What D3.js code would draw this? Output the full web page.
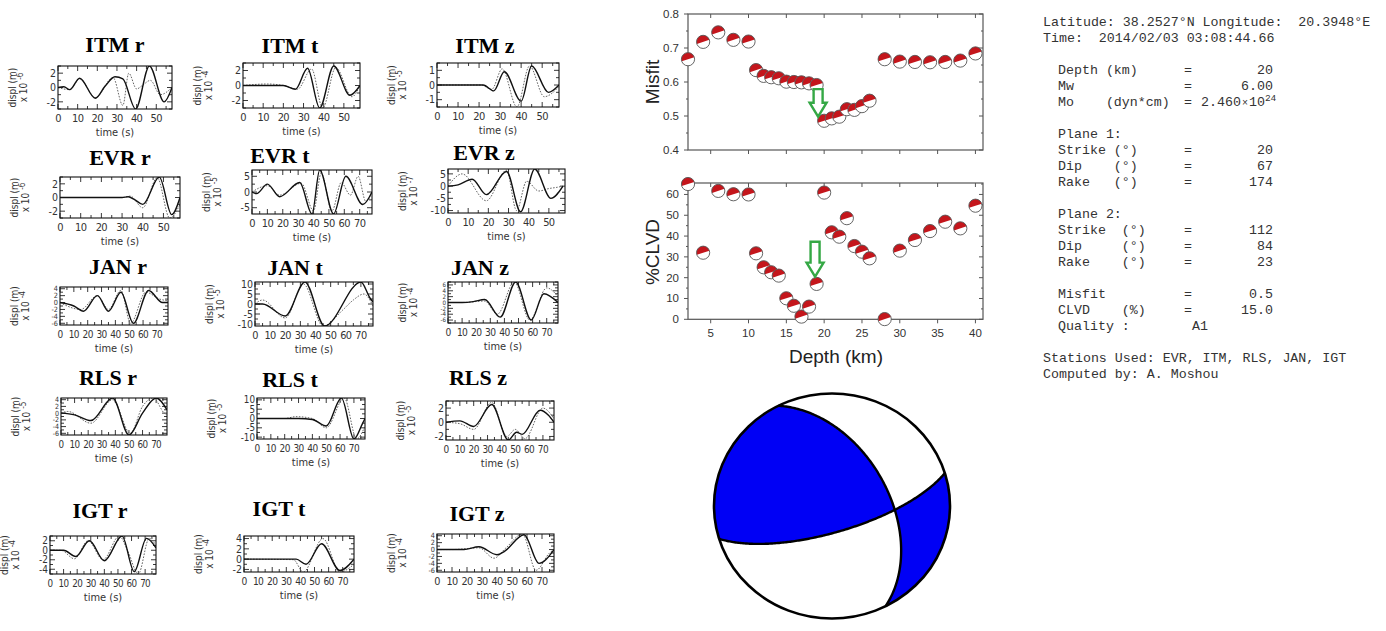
<!DOCTYPE html>
<html>
<head>
<meta charset="utf-8">
<script src="https://cdn.jsdelivr.net/npm/d3@7"></script>
<style>
	body { margin: 0; background: #fff; }
	svg { display: block; }
	.mono { font-family: "Liberation Mono", "Courier New", monospace; font-size: 13.3px; fill: #333; white-space: pre; }
	.wtick { font-family: "Liberation Sans Narrow", "DejaVu Sans Condensed", "Liberation Sans", sans-serif; font-size: 11px; fill: #333; }
	.ptick { font-family: "Liberation Sans", Arial, sans-serif; font-size: 11.5px; fill: #333; }
</style>
</head>
<body>
<div id="chart"></div>
<script>
///////////////////////////////////////////////////////////////////////////
//////////////////////////// data /////////////////////////////////////////
///////////////////////////////////////////////////////////////////////////

// depth scan
const depths = [2, 4, 6, 8, 10, 11, 12, 13, 14, 15, 16, 17, 18, 19, 20, 21, 22, 23, 24, 25, 26, 28, 30, 32, 34, 36, 38, 40];
const misfit = [0.667, 0.718, 0.746, 0.724, 0.719, 0.635, 0.618, 0.614, 0.611, 0.601, 0.6, 0.599, 0.596, 0.591, 0.486, 0.493, 0.498, 0.52, 0.518, 0.529, 0.545, 0.667, 0.66, 0.659, 0.658, 0.659, 0.663, 0.684];
const clvd = [65, 32, 61.7, 60.1, 60, 31.7, 25, 22.6, 21, 10.1, 6.5, 1.3, 6.1, 17, 60.9, 41.8, 39.7, 48.6, 35.2, 32.5, 29.3, 0.1, 33, 38.1, 42.4, 46.9, 43.7, 54.6];
const depthTicks = [5, 10, 15, 20, 25, 30, 35, 40];
const misfitTicks = [0.4, 0.5, 0.6, 0.7, 0.8];
const clvdTicks = [0, 10, 20, 30, 40, 50, 60];
// best solution arrows [depth, from, to]
const arrowMisfit = [19.2, 0.579, 0.498];
const arrowClvd = [18.8, 37.3, 20.5];

// solution text
const headerLines = ["Latitude: 38.2527°N Longitude:  20.3948°E", "Time:  2014/02/03 03:08:44.66"];
const paramRows = [
	["Depth (km)", "20", 3], ["Mw", "6.00", 4], ["Mo    (dyn*cm)", null, 5],
	["Plane 1:", "", 7], ["Strike (°)", "20", 8], ["Dip    (°)", "67", 9], ["Rake   (°)", "174", 10],
	["Plane 2:", "", 12], ["Strike  (°)", "112", 13], ["Dip     (°)", "84", 14], ["Rake    (°)", "23", 15],
	["Misfit", "0.5", 17], ["CLVD    (%)", "15.0", 18]
];
const moment = ["2.460", "10", "24"];
const quality = ["Quality :", "A1", 19];
const footerLines = [["Stations Used: EVR, ITM, RLS, JAN, IGT", 21], ["Computed by: A. Moshou", 22]];

// nodal planes as drawn in the beachball [strike, dip]
const bbPlanes = [[333, 50], [73, 71]];
const bbPolarity = 1;

// waveforms
const stations = ["ITM", "EVR", "JAN", "RLS", "IGT"];
const components = ["r", "t", "z"];
const waveTMax = [[58, 58, 58], [58, 78, 58], [78, 78, 78], [78, 78, 78], [78, 78, 78]];
const waveYDomain = [
	[[-3, 3], [-3, 3], [-1.5, 1.5]],
	[[-3, 3], [-7, 7], [-11, 7]],
	[[-6.5, 4.5], [-11, 11], [-7, 7]],
	[[-6.5, 4.5], [-11, 11], [-2.5, 3]],
	[[-5, 3], [-2.5, 4.5], [-6.5, 4.5]]
];
const waveYTicks = [
	[[2, 0, -2], [2, 0, -2], [1, 0, -1]],
	[[2, 0, -2], [5, 0, -5], [5, 0, -5, -10]],
	[[4, 2, 0, -2, -4, -6], [10, 5, 0, -5, -10], [6, 4, 2, 0, -2, -4, -6]],
	[[4, 2, 0, -2, -4, -6], [10, 5, 0, -5, -10], [2, 0, -2]],
	[[2, 0, -2, -4], [4, 2, 0, -2], [4, 2, 0, -2, -4, -6]]
];
const waveExp = [[-6, -4, -5], [-6, -5, -7], [-4, -5, -4], [-5, -5, -5], [-4, -4, -4]];

const itmObs = [
	[[0, 0], [3, 0.1], [6, -0.3], [11, 1.3], [19, -1.5], [24, 0.2], [29, 1.5], [33, 1.2], [39.5, -3], [46.5, 3], [54, -2], [58, 0]],
	[[0, 0], [10, 0], [20, 0], [26, -0.5], [32, 2.3], [38, -3], [45, 2.6], [53, -1.3], [58, 0]],
	[[0, 0], [10, 0], [22, 0], [27, -0.4], [32, 0.9], [40, -1.1], [45, 1.3], [53, -0.5], [58, 0]]
];
const itmSyn = [
	[[0, 0], [6, -0.3], [11, 1.2], [19, -1.4], [28, 1.4], [33, -2.5], [36, 2], [40, -0.2], [43, 0.3], [47, 1], [52, -1], [58, 0]],
	[[0, 0], [12, 0.2], [20, 0], [27, -0.5], [34, 2.2], [39.5, -3], [46, 2.4], [54, -1.5], [58, 0]],
	[[0, 0], [10, 0], [21, 0], [26, -0.3], [31, 1.1], [38, -1.5], [44, 1.3], [51, -0.8], [58, -0.1]]
];
const evrObs = [
	[[0, 0], [20, 0], [30, 0], [33, 0.1], [36, -0.3], [40, -1], [48, 3], [54, -2.5], [58, 0]],
	[[0, 0], [3, -0.5], [10, 2.5], [18, -1.5], [31, 3], [39, -7], [44, 7], [53, -7], [61, 5], [72, -4], [78, 0]],
	[[0, 0], [5, 0.5], [12, 2.8], [19, -3.5], [29, 6], [36, -10.5], [43, 7], [51, -5], [57, 0]]
];
const evrSyn = [
	[[0, 0], [30, 0], [34, 0.2], [40, -1.5], [47, 2.9], [53, -3], [58, -1]],
	[[0, 0], [10, 2], [18, -1], [32, 2.8], [40, -6], [45, 6], [52, -6], [58, 3], [64, -1], [69, 5], [74, -3], [78, 0]],
	[[0, 0], [7, 5], [19, -6], [29, 6.5], [34, -10], [39, 2], [45, -2], [50, -1], [54, -0.5], [57, 0]]
];
const janObs = [
	[[0, 0], [10, -1], [17, -2.5], [27, 2], [35, -2.5], [44, 3], [53, -6], [64, 3.5], [74, 0], [78, 0]],
	[[0, 0], [5, 0], [20, -6], [33, 11], [46, -11], [70, 11], [76, 3], [78, 1]],
	[[0, 0], [10, 0], [18, 0.3], [26, 1], [37, -5], [48, 7], [59, -6], [68, 3], [78, 0]]
];
const janSyn = [
	[[0, 0], [15, -2], [27, 2], [35, -2], [44, 3.5], [51, -6], [62, 3], [72, 1], [78, 0.5]],
	[[0, 0], [5, 2], [20, -7], [32, 10], [45, -11], [58, -3], [65, 2], [72, 5], [78, -1]],
	[[0, 0], [10, 0], [26, 0.5], [35, -4], [47, 7], [58, -6], [70, 5], [78, 2]]
];
const rlsObs = [
	[[0, 0], [10, -0.5], [22, -2.2], [38, 4.5], [50, -6.5], [60, 0], [70, 4.5], [78, 1]],
	[[0, 0], [30, 0], [40, -0.5], [50, -4], [61, 11], [70, -11], [76, -3], [78, 0]],
	[[0, 0], [10, 0.2], [20, -0.6], [33, 2.5], [45, -2.5], [51, -1.4], [55, -1.7], [68, 1.7], [74, 1], [78, 0]]
];
const rlsSyn = [
	[[0, 0], [5, 0.5], [22, -3], [38, 4], [51, -6], [60, 2], [68, 4.5], [76, 0], [78, -0.5]],
	[[0, 0], [20, 0], [28, 1], [40, 0], [50, -5], [63, 11], [72, -11], [78, -4]],
	[[0, 0], [10, -0.2], [20, -1], [33, 2.8], [44, -2], [50, -1], [57, -2.3], [70, 2], [78, 0.5]]
];
const igtObs = [
	[[0, 0], [10, 0], [19, -1.3], [29, 2], [40, -2.2], [53, 3], [62, -4.5], [71, 2.5], [78, 0.5]],
	[[0, 0], [30, 0], [37, 0], [44, -1], [55, 3], [68, -2.2], [78, 0]],
	[[0, 0], [10, 0], [18, 0], [28, 0.8], [40, -1.5], [45, -0.5], [58, 4.3], [68, -4], [78, 0]]
];
const igtSyn = [
	[[0, 0], [8, 0], [18, -1.8], [28, 2], [39, -2], [51, 3], [57, 0], [65, -5], [73, 2.5], [78, 1]],
	[[0, 0], [35, -0.1], [42, -2.5], [56, 4], [68, -2.5], [78, -1]],
	[[0, 0], [10, 0], [28, 0.5], [38, -2.5], [46, 0.5], [57, 4.5], [66, -6], [75, -1], [78, 0]]
];
const observed = [itmObs, evrObs, janObs, rlsObs, igtObs];
const synthetic = [itmSyn, evrSyn, janSyn, rlsSyn, igtSyn];

///////////////////////////////////////////////////////////////////////////
//////////////////////////// drawing function /////////////////////////////
///////////////////////////////////////////////////////////////////////////

const createChart = () => {
	const width = 1386;
	const height = 631;

	const svg = d3.select("#chart").append("svg")
		.attr("width", width).attr("height", height);
	svg.append("rect").attr("width", width).attr("height", height).attr("fill", "#fff");

	//////////////////////////// waveform panels ////////////////////////////

	// box [x, y, w, h] and title centre per panel
	const panelBoxes = [
		[[58, 66, 114, 43], [243, 63, 117, 45], [437, 63, 122, 44]],
		[[60, 177, 120, 41], [252, 170, 120, 44], [448, 169, 117, 44]],
		[[60, 287, 108, 38], [255, 282, 118, 44], [448, 282, 110, 41]],
		[[61, 398, 106, 37], [257, 398, 108, 41], [446, 401, 108, 39]],
		[[50, 536, 106, 38], [244, 536, 110, 36], [437, 534, 117, 38]]
	];
	const titlePos = [
		[[115, 44], [290, 45], [485, 45]],
		[[120, 157], [280, 155], [484, 152]],
		[[118, 266], [295, 267], [480, 267]],
		[[108, 377], [290, 379], [478, 377]],
		[[100, 510], [279, 508], [477, 513]]
	];

	const waves = svg.append("g").attr("class", "waves");

	const drawPanel = (si, ci) => {
		const [bx, by, bw, bh] = panelBoxes[si][ci];
		const tMax = waveTMax[si][ci];
		const g = waves.append("g");
		const x = d3.scaleLinear().domain([0, tMax]).range([bx, bx + bw]);
		const y = d3.scaleLinear().domain(waveYDomain[si][ci]).range([by + bh, by]);

		g.append("text")
			.attr("x", titlePos[si][ci][0]).attr("y", titlePos[si][ci][1] + 8)
			.attr("text-anchor", "middle")
			.style("font-family", "'Liberation Serif', 'Times New Roman', serif")
			.style("font-weight", "bold").style("font-size", "22px")
			.text(stations[si] + " " + components[ci]);

		// ticks (inward, on all four sides)
		const tk = g.append("g").attr("stroke", "#222").attr("stroke-width", 0.9);
		const xMaj = d3.range(0, tMax + 0.01, 10);
		const xMin = d3.range(5, tMax, 10);
		xMaj.concat(xMin).forEach((t, i) => {
			const l = i < xMaj.length ? 5 : 3;
			tk.append("line").attr("x1", x(t)).attr("x2", x(t)).attr("y1", by + bh).attr("y2", by + bh - l);
			tk.append("line").attr("x1", x(t)).attr("x2", x(t)).attr("y1", by).attr("y2", by + l);
		});
		const yt = waveYTicks[si][ci];
		const step = Math.abs(yt[0] - yt[1]);
		const yMin = d3.range(yt[yt.length - 1] - step / 2, yt[0] + step, step / 2)
			.filter((v) => v >= y.domain()[0] && v <= y.domain()[1]);
		yMin.forEach((v) => {
			const l = yt.includes(v) ? 5 : 3;
			tk.append("line").attr("x1", bx).attr("x2", bx + l).attr("y1", y(v)).attr("y2", y(v));
			tk.append("line").attr("x1", bx + bw).attr("x2", bx + bw - l).attr("y1", y(v)).attr("y2", y(v));
		});

		// traces
		const clipId = `clip-${si}-${ci}`;
		g.append("clipPath").attr("id", clipId)
			.append("rect").attr("x", bx).attr("y", by).attr("width", bw).attr("height", bh);
		const line = d3.line().x((d) => x(d[0])).y((d) => y(d[1])).curve(d3.curveMonotoneX);
		g.append("path").attr("clip-path", `url(#${clipId})`)
			.attr("d", line(synthetic[si][ci]))
			.attr("fill", "none").attr("stroke", "#666").attr("stroke-width", 1)
			.attr("stroke-dasharray", "1.6,1.4");
		g.append("path").attr("clip-path", `url(#${clipId})`)
			.attr("d", line(observed[si][ci]))
			.attr("fill", "none").attr("stroke", "#111").attr("stroke-width", 1.4);

		g.append("rect").attr("x", bx).attr("y", by).attr("width", bw).attr("height", bh)
			.attr("fill", "none").attr("stroke", "#111").attr("stroke-width", 1.1);

		// tick labels, shrunk where the axis is crowded
		const xSpace = x(10) - x(0);
		const xFont = Math.min(11, xSpace * 0.72);
		xMaj.forEach((t) => {
			g.append("text").attr("class", "wtick").attr("x", x(t)).attr("y", by + bh + 13)
				.attr("text-anchor", "middle")
				.style("font-size", xFont + "px").style("letter-spacing", "-0.6px")
				.text(t);
		});
		const ySpace = Math.abs(y(yt[0]) - y(yt[1]));
		const yFont = Math.min(10.5, ySpace * 1.05);
		yt.forEach((v) => {
			g.append("text").attr("class", "wtick").attr("x", bx - 2).attr("y", y(v) + yFont * 0.36)
				.attr("text-anchor", "end").style("font-size", yFont + "px").text(v);
		});
		g.append("text").attr("class", "wtick").attr("x", bx + bw / 2).attr("y", by + bh + 27)
			.attr("text-anchor", "middle").text("time (s)");

		// y label
		const cy = by + bh / 2;
		g.append("text").attr("class", "wtick")
			.attr("transform", `translate(${bx - 42},${cy}) rotate(-90)`)
			.attr("text-anchor", "middle").style("font-size", "10px").text("displ (m)");
		const ex = g.append("text").attr("class", "wtick")
			.attr("transform", `translate(${bx - 31},${cy}) rotate(-90)`)
			.attr("text-anchor", "middle").style("font-size", "10px");
		ex.append("tspan").text("x 10 ");
		ex.append("tspan").attr("dy", -4).style("font-size", "8px").text(waveExp[si][ci]);
	};

	stations.forEach((s, si) => components.forEach((c, ci) => drawPanel(si, ci)));

	//////////////////////////// depth plots /////////////////////////////////

	const xScale = d3.scaleLinear().domain([2, 41]).range([688, 983]);
	const yMisfit = d3.scaleLinear().domain([0.4, 0.8]).range([150, 14]);
	const yClvd = d3.scaleLinear().domain([0, 65.5]).range([319.3, 183]);

	const plots = svg.append("g").attr("class", "plots");

	const frame = (yScale, yTicks, yMinor, fmt, showX) => {
		const g = plots.append("g");
		const [y0, y1] = yScale.range();
		const ax = g.append("g").attr("stroke", "#555").attr("stroke-width", 1);
		depthTicks.forEach((d) => {
			ax.append("line").attr("x1", xScale(d)).attr("x2", xScale(d)).attr("y1", y0).attr("y2", y0 + 4);
			ax.append("line").attr("x1", xScale(d)).attr("x2", xScale(d)).attr("y1", y1).attr("y2", y1 + 4);
		});
		yTicks.forEach((v) => {
			ax.append("line").attr("x1", 688).attr("x2", 684).attr("y1", yScale(v)).attr("y2", yScale(v));
			ax.append("line").attr("x1", 983).attr("x2", 979).attr("y1", yScale(v)).attr("y2", yScale(v));
		});
		yMinor.forEach((v) => {
			ax.append("line").attr("x1", 688).attr("x2", 686).attr("y1", yScale(v)).attr("y2", yScale(v));
			ax.append("line").attr("x1", 983).attr("x2", 981).attr("y1", yScale(v)).attr("y2", yScale(v));
		});
		g.append("rect").attr("x", 688).attr("y", y1).attr("width", 983 - 688).attr("height", y0 - y1)
			.attr("fill", "none").attr("stroke", "#555").attr("stroke-width", 1.2);
		yTicks.forEach((v) => {
			g.append("text").attr("class", "ptick").attr("x", 679).attr("y", yScale(v) + 4)
				.attr("text-anchor", "end").text(fmt(v));
		});
		if (showX) {
			depthTicks.forEach((d) => {
				g.append("text").attr("class", "ptick").attr("x", xScale(d)).attr("y", y0 + 18)
					.attr("text-anchor", "middle").text(d);
			});
		}
	};

	frame(yMisfit, misfitTicks, [0.45, 0.55, 0.65, 0.75], d3.format(".1f"), false);
	frame(yClvd, clvdTicks, [5, 15, 25, 35, 45, 55, 65], (v) => v, true);

	const axisLabel = (x, y, rot, txt) => plots.append("text")
		.attr("transform", `translate(${x},${y}) rotate(${rot})`)
		.attr("text-anchor", "middle")
		.style("font-family", "'Liberation Sans', Arial, sans-serif")
		.style("font-size", "19px").style("fill", "#222")
		.text(txt);
	axisLabel(659, 82, -90, "Misfit");
	axisLabel(659, 252, -90, "%CLVD");
	axisLabel(836, 363, 0, "Depth (km)");

	// small beachball markers
	const mr = 6.6;
	const markers = (yScale, values) => {
		const m = plots.append("g").selectAll("g").data(depths).join("g")
			.attr("transform", (d, i) => `translate(${xScale(d)},${yScale(values[i])})`);
		m.append("circle").attr("r", mr).attr("fill", "#fff");
		m.append("path")
			.attr("d", `M${-mr},0 A${mr},${mr} 0 0 1 ${mr},0 Z`)
			.attr("transform", "rotate(-18)")
			.attr("fill", "#c4161c");
		m.append("circle").attr("r", mr).attr("fill", "none").attr("stroke", "#555").attr("stroke-width", 0.9);
	};
	markers(yMisfit, misfit);
	markers(yClvd, clvd);

	// hollow green arrows
	const arrow = (yScale, [d, from, to]) => {
		const cx = xScale(d), top = yScale(from), tip = yScale(to);
		const hb = tip - 14;
		const p = d3.path();
		p.moveTo(cx - 4.5, top); p.lineTo(cx + 4.5, top); p.lineTo(cx + 4.5, hb);
		p.lineTo(cx + 8.5, hb); p.lineTo(cx, tip); p.lineTo(cx - 8.5, hb);
		p.lineTo(cx - 4.5, hb); p.closePath();
		plots.append("path").attr("d", p.toString())
			.attr("fill", "#fff").attr("stroke", "#35a845").attr("stroke-width", 2.4)
			.attr("stroke-linejoin", "miter");
	};
	arrow(yMisfit, arrowMisfit);
	arrow(yClvd, arrowClvd);

	//////////////////////////// solution text ///////////////////////////////

	const txt = svg.append("g").attr("class", "mono");
	const base = (k) => 26.2 + 16 * k;
	headerLines.forEach((l, k) => {
		txt.append("text").attr("class", "mono").attr("x", 1043).attr("y", base(k)).text(l);
	});
	paramRows.forEach(([label, val, k]) => {
		txt.append("text").attr("class", "mono").attr("x", 1058).attr("y", base(k)).text(label);
		if (val === "") return;
		txt.append("text").attr("class", "mono").attr("x", 1184).attr("y", base(k)).text("=");
		if (val !== null) {
			txt.append("text").attr("class", "mono").attr("x", 1273).attr("y", base(k))
				.attr("text-anchor", "end").text(val);
		}
	});
	const mo = txt.append("text").attr("class", "mono").attr("x", 1201).attr("y", base(5));
	mo.append("tspan").text(moment[0]);
	mo.append("tspan").attr("dx", 1).style("font-size", "10px").text("×");
	mo.append("tspan").attr("dx", 1).text(moment[1]);
	mo.append("tspan").attr("dy", -5).style("font-size", "9.5px").text(moment[2]);
	txt.append("text").attr("class", "mono").attr("x", 1058).attr("y", base(quality[2])).text(quality[0]);
	txt.append("text").attr("class", "mono").attr("x", 1192).attr("y", base(quality[2])).text(quality[1]);
	footerLines.forEach(([l, k]) => {
		txt.append("text").attr("class", "mono").attr("x", 1043).attr("y", base(k)).text(l);
	});

	//////////////////////////// beachball ///////////////////////////////////

	const bx = 832, by = 506, R = 118, Ry = 112.5;
	const rad = Math.PI / 180;
	const normal = ([st, dp]) => [
		-Math.sin(dp * rad) * Math.sin(st * rad),
		Math.sin(dp * rad) * Math.cos(st * rad),
		-Math.cos(dp * rad)
	];
	const dot = (a, b) => a[0] * b[0] + a[1] * b[1] + a[2] * b[2];
	const n1 = normal(bbPlanes[0]);
	const n2 = normal(bbPlanes[1]);

	// polarity grid over the equal-area projection, contoured at zero
	const n = 241, ext = 1.1;
	const values = new Array(n * n);
	for (let j = 0; j < n; j++) {
		for (let i = 0; i < n; i++) {
			const u = -ext + (2 * ext * i) / (n - 1);
			const w = -ext + (2 * ext * j) / (n - 1);
			const h = Math.hypot(u, w);
			const r = Math.min(h, Math.SQRT2 - 1e-6);
			const th = 2 * Math.asin(r / Math.SQRT2);
			const s = h > 0 ? Math.sin(th) / h : 0;
			const d = [-w * s, u * s, Math.cos(th)];
			values[j * n + i] = bbPolarity * dot(n1, d) * dot(n2, d);
		}
	}
	const contours = d3.contours().size([n, n]).thresholds([0])(values);
	const gx = (v) => bx + R * (-ext + (2 * ext * (v - 0.5)) / (n - 1));
	const gy = (v) => by + Ry * (-ext + (2 * ext * (v - 0.5)) / (n - 1));
	const gridPath = d3.geoPath(d3.geoTransform({
		point(px, py) { this.stream.point(gx(px), gy(py)); }
	}));

	const ball = svg.append("g").attr("class", "beachball");
	ball.append("clipPath").attr("id", "ballClip")
		.append("ellipse").attr("cx", bx).attr("cy", by).attr("rx", R).attr("ry", Ry);
	ball.append("ellipse").attr("cx", bx).attr("cy", by).attr("rx", R).attr("ry", Ry).attr("fill", "#fff");
	ball.append("path").attr("clip-path", "url(#ballClip)")
		.attr("d", gridPath(contours[0])).attr("fill", "#0000f5");

	const project = (d) => {
		const th = Math.acos(Math.max(-1, Math.min(1, d[2])));
		const r = Math.SQRT2 * Math.sin(th / 2);
		const hn = Math.hypot(d[0], d[1]) || 1;
		return [bx + R * r * d[1] / hn, by - Ry * r * d[0] / hn];
	};
	const trace = ([st, dp]) => d3.range(0, 180.01, 1).map((a) => {
		const s = st * rad, dr = dp * rad, ar = a * rad;
		const sv = [Math.cos(s), Math.sin(s), 0];
		const dv = [Math.cos(dr) * Math.cos(s + Math.PI / 2), Math.cos(dr) * Math.sin(s + Math.PI / 2), Math.sin(dr)];
		return project(sv.map((c, k) => Math.cos(ar) * c + Math.sin(ar) * dv[k]));
	});
	const planeLine = d3.line();
	bbPlanes.forEach((p) => {
		ball.append("path").attr("d", planeLine(trace(p)))
			.attr("fill", "none").attr("stroke", "#000").attr("stroke-width", 2.4);
	});
	ball.append("ellipse").attr("cx", bx).attr("cy", by).attr("rx", R).attr("ry", Ry)
		.attr("fill", "none").attr("stroke", "#000").attr("stroke-width", 2.6);
};

createChart();
</script>
</body>
</html>
